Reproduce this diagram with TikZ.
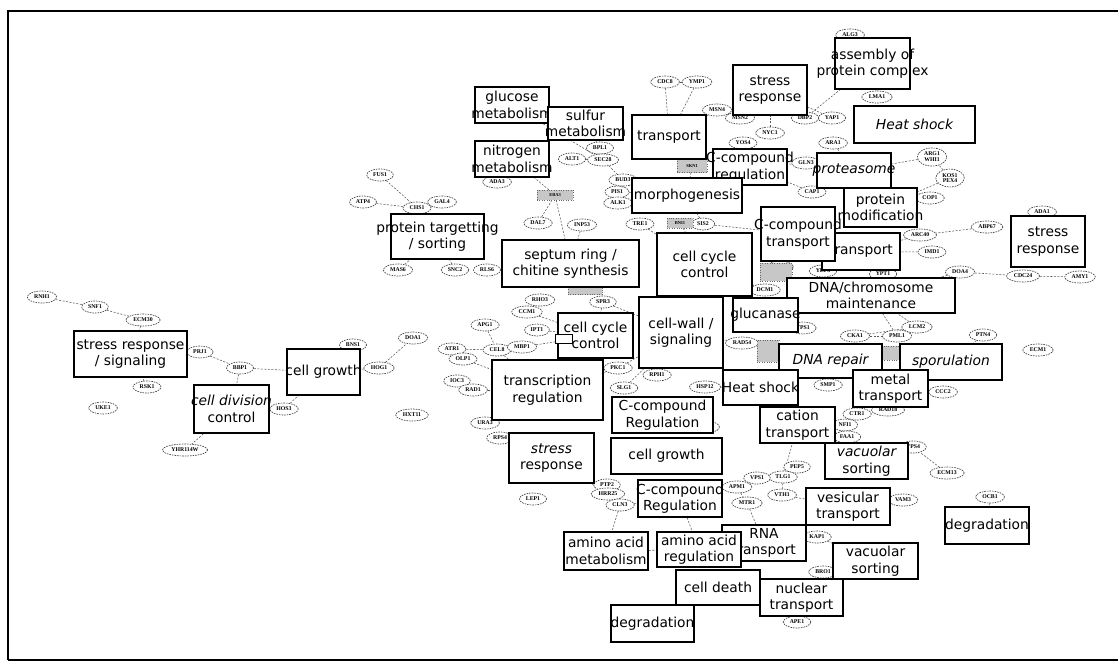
\documentclass[tikz,border=0pt]{standalone}
\usepackage{fontspec}
\newfontfamily\boxf{DejaVu Sans}
\newfontfamily\genef{Liberation Serif}
\usetikzlibrary{shapes.geometric,backgrounds}
\tikzset{
 catbox/.style={draw=black, line width=1.9pt, fill=white, inner sep=0pt, rectangle},
 thinbox/.style={line width=1.1pt},
 cattext/.style={font=\boxf\fontsize{13.8}{16.5}\selectfont, align=center, inner sep=0pt},
 gene/.style={ellipse, draw=black!75, dash pattern=on 1.6pt off 1pt, line width=.65pt, fill=white, inner xsep=2.5pt, inner ysep=1.5pt, minimum height=12pt, font=\genef\bfseries\fontsize{5.8}{5.8}\selectfont, align=center},
 patch/.style={rectangle, draw=black!60, dotted, fill=black!22, inner sep=0.5pt, font=\genef\bfseries\fontsize{4.5}{5}\selectfont},
 edge/.style={draw=black!65, dash pattern=on 2pt off 1.5pt, line width=.55pt},
 frame/.style={draw=black, line width=1.3pt},
 smallsq/.style={draw=black, line width=.8pt, fill=white, inner sep=0pt},
}
\newcommand\cbox[7][]{%
 \node[catbox,#1,minimum width={#5-#3},minimum height={#6-#4}] (#2) at ({(#3+#5)/2},{(#4+#6)/2}) {};
 \node[cattext] (#2t) at (#2.center) {#7};}
\newcommand\gn[4]{\node[gene] (#1) at (#2,#3) {#4};}
\begin{document}
\begin{tikzpicture}[x=1pt,y=-1pt]
\useasboundingbox (0,0) rectangle (1118,664);
% genes
\gn{g1}{42}{297}{RNH1}
\gn{g2}{95}{307}{SNF1}
\gn{g3}{143}{320}{ECM30}
\gn{g4}{200}{352}{PRJ1}
\gn{g5}{240}{368}{BBP1}
\gn{g6}{284}{409}{HOS3}
\gn{g7}{147}{387}{RSK1}
\gn{g8}{103}{408}{UKE1}
\gn{g9}{185}{450}{YHR114W}
\gn{g10}{353}{345}{BNS1}
\gn{g11}{379}{368}{HOG1}
\gn{g12}{413}{338}{DOA1}
\gn{g13}{412}{415}{HXT11}
\gn{g14}{485}{325}{APG1}
\gn{g15}{452}{349}{ATR1}
\gn{g16}{463}{359}{OLP1}
\gn{g17}{497}{350}{CEL8}
\gn{g18}{457}{381}{IOC3}
\gn{g19}{473}{390}{RAD1}
\gn{g20}{485}{423}{URA3}
\gn{g21}{500}{438}{RPS4}
\gn{g22}{533}{499}{LEP1}
\gn{g23}{540}{300}{RHO3}
\gn{g24}{527}{312}{CCM1}
\gn{g25}{537}{330}{IPT1}
\gn{g26}{603}{302}{SPR3}
\gn{g27}{522}{347}{MBP1}
\gn{g28}{455}{270}{SNC2}
\gn{g29}{487}{270}{RLS6}
\gn{g30}{398}{270}{MAS6}
\gn{g31}{380}{175}{FUS1}
\gn{g32}{363}{202}{ATP4}
\gn{g33}{417}{208}{CHS1}
\gn{g34}{442}{202}{GAL4}
\gn{g35}{497}{182}{ADA3}
\gn{g36}{538}{223}{DAL7}
\gn{g37}{582}{225}{INP53}
\gn{g38}{600}{148}{BPL1}
\gn{g39}{572}{159}{ALT1}
\gn{g40}{603}{160}{SEC28}
\gn{g41}{617}{192}{PIS1}
\gn{g42}{618}{203}{ALK1}
\gn{g43}{623}{180}{BUD3}
\gn{g44}{640}{224}{TRE1}
\gn{g45}{703}{224}{SIS2}
\gn{g46}{665}{82}{CDC8}
\gn{g47}{697}{82}{YMP1}
\gn{g48}{717}{110}{MSN4}
\gn{g49}{740}{118}{MSN2}
\gn{g50}{743}{143}{YOS4}
\gn{g51}{770}{133}{NYC1}
\gn{g52}{806}{163}{GLN3}
\gn{g53}{805}{118}{DBP2}
\gn{g54}{832}{118}{YAP1}
\gn{g55}{850}{35}{ALG3}
\gn{g56}{877}{97}{LMA1}
\gn{g57}{833}{143}{ARA1}
\gn{g58}{812}{192}{CAP1}
\gn{g59}{932}{157}{ARG1\\WHI1}
\gn{g60}{950}{178}{KOS1\\PEX4}
\gn{g61}{930}{198}{COP1}
\gn{g62}{1042}{212}{ADA1}
\gn{g63}{987}{227}{ABP67}
\gn{g64}{920}{235}{ARC40}
\gn{g65}{932}{252}{IMD1}
\gn{g66}{960}{272}{DOA4}
\gn{g67}{1023}{276}{CDC24}
\gn{g68}{1080}{277}{AMY1}
\gn{g69}{917}{327}{LCM2}
\gn{g70}{983}{335}{PTN4}
\gn{g71}{1038}{350}{ECM1}
\gn{g73}{780}{267}{SAP4}
\gn{g74}{823}{271}{YEF3}
\gn{g75}{883}{274}{YPT1}
\gn{g76}{765}{290}{DCM1}
\gn{g77}{803}{328}{TPS1}
\gn{g78}{855}{336}{CKA1}
\gn{g79}{897}{336}{PML1}
\gn{g80}{742}{343}{RAD54}
\gn{g81}{828}{385}{SMP1}
\gn{g83}{857}{414}{CTR1}
\gn{g84}{888}{410}{RAD18}
\gn{g85}{845}{425}{NFI1}
\gn{g86}{847}{437}{FAA1}
\gn{g87}{943}{392}{CCC2}
\gn{g88}{705}{387}{HSP12}
\gn{g89}{657}{375}{RPH1}
\gn{g90}{705}{427}{ALO1}
\gn{g91}{607}{485}{PTP2}
\gn{g92}{608}{494}{HRR25}
\gn{g93}{620}{505}{CLN3}
\gn{g94}{797}{467}{PEP5}
\gn{g95}{783}{477}{TLG1}
\gn{g96}{757}{478}{VPS1}
\gn{g97}{737}{487}{APM1}
\gn{g98}{747}{503}{MTR1}
\gn{g99}{782}{495}{VTH1}
\gn{g100}{903}{500}{VAM3}
\gn{g101}{817}{537}{KAP1}
\gn{g102}{823}{572}{BRO1}
\gn{g103}{797}{622}{APE1}
\gn{g104}{947}{473}{ECM13}
\gn{g105}{990}{497}{OCB1}
\gn{g106}{913}{447}{VPS4}
\gn{g107}{618}{368}{PKC1}
\gn{g108}{624}{388}{SLG1}
% shaded patches
\node[patch, minimum width=36pt, minimum height=10pt] (p1) at (555,195) {EBA3};
\node[patch, minimum width=30pt, minimum height=13pt] (p2) at (692,166) {SKN1};
\node[patch, minimum width=26pt, minimum height=10pt] (p3) at (680,223) {BNI1};
\node[patch, minimum width=34pt, minimum height=7pt] (p4) at (585,291) {};
\node[patch, minimum width=32pt, minimum height=18pt] (p5) at (776,272) {};
\node[patch, minimum width=22pt, minimum height=22pt] (p6) at (768,351) {};
\node[patch, minimum width=18pt, minimum height=14pt] (p7) at (891,353) {};
% category boxes
\cbox{stressT}{733}{65}{807}{115}{stress\\response}
\cbox{assembly}{835}{38}{910}{89}{assembly of\\protein complex}
\cbox[thinbox]{heatT}{854}{106}{975}{143}{\itshape Heat shock}
\cbox{cregT}{713}{149}{787}{185}{C-compound\\regulation}
\cbox{transT}{632}{115}{706}{159}{transport}
\cbox{glucose}{475}{87}{549}{123}{glucose\\metabolism}
\cbox{sulfur}{548}{107}{623}{140}{sulfur\\metabolism}
\cbox{nitrogen}{475}{141}{549}{177}{nitrogen\\metabolism}
\cbox{morph}{632}{178}{742}{213}{morphogenesis}
\cbox{proteasome}{817}{153}{891}{188}{\itshape proteasome}
\cbox{protmod}{844}{188}{917}{227}{protein\\modification}
\cbox{transR}{822}{233}{900}{270}{transport}
\cbox{cctrans}{761}{207}{835}{261}{C-compound\\transport}
\cbox{stressR}{1011}{216}{1085}{267}{stress\\response}
\cbox{prottarg}{391}{214}{484}{259}{protein targetting\\/ sorting}
\cbox{septum}{502}{240}{639}{287}{septum ring /\\chitine synthesis}
\cbox{ccC}{657}{233}{752}{296}{cell cycle\\control}
\cbox{dnachrom}{787}{278}{955}{313}{DNA/chromosome\\maintenance}
\cbox{cellwall}{639}{297}{723}{368}{cell-wall /\\signaling}
\cbox{glucanase}{733}{298}{798}{332}{glucanase}
\cbox{ccS}{558}{313}{633}{358}{cell cycle\\control}
\node[smallsq, minimum width=17pt, minimum height=9pt] (sq) at (564,339) {};
\cbox{transcr}{492}{360}{603}{420}{transcription\\regulation}
\cbox{dnarep}{779}{344}{882}{378}{\itshape DNA repair}
\cbox{sporul}{900}{344}{1002}{380}{\itshape sporulation}
\cbox{metal}{853}{370}{928}{407}{metal\\transport}
\cbox{heatM}{723}{370}{798}{405}{Heat shock}
\cbox{cation}{760}{407}{835}{443}{cation\\transport}
\cbox{cregM}{612}{397}{713}{433}{C-compound\\Regulation}
\cbox{vacM}{825}{443}{908}{479}{{\itshape vacuolar}\\sorting}
\cbox{stressL}{509}{433}{594}{483}{{\itshape stress}\\response}
\cbox{cellgrowthC}{611}{438}{722}{474}{cell growth}
\cbox{cregL}{638}{480}{722}{517}{C-compound\\Regulation}
\cbox{rnatrans}{722}{525}{806}{561}{RNA\\transport}
\cbox{vesic}{806}{488}{890}{525}{vesicular\\transport}
\cbox{aamet}{564}{532}{648}{570}{amino acid\\metabolism}
\cbox{aareg}{657}{532}{741}{567}{amino acid\\regulation}
\cbox{celldeath}{676}{570}{760}{605}{cell death}
\cbox{degL}{611}{605}{694}{642}{degradation}
\cbox{vacL}{833}{543}{918}{579}{vacuolar\\sorting}
\cbox{nuclear}{760}{579}{843}{616}{nuclear\\transport}
\cbox[thinbox]{degR}{945}{507}{1029}{544}{degradation}
\cbox{stresssig}{74}{331}{187}{377}{stress response\\/ signaling}
\cbox{celldiv}{194}{385}{269}{433}{{\itshape cell division}\\control}
\cbox{cellgrowthL}{287}{349}{360}{395}{cell growth}
% frame
\draw[frame] (8,660) -- (8,11) -- (1118,11);
\draw[frame] (8,660) -- (1118,660);
\begin{scope}[on background layer]
\fill[white] (0,0) rectangle (1118,664);
\foreach \a/\b in {g1/g2,g2/g3,g3/stresssig,stresssig/g4,g4/g5,g5/cellgrowthL,g5/celldiv,celldiv/g9,g6/cellgrowthL,g6/celldiv,g7/stresssig,g10/cellgrowthL,g11/cellgrowthL,g11/g12,g15/g17,g16/transcr,g17/transcr,g18/g19,g19/transcr,g20/transcr,g21/stressL,g14/g17,g23/g24,g24/ccS,g25/ccS,g26/ccS,g27/ccS,g26/cellwall,
g31/g33,g32/g33,g34/g33,g33/prottarg,g30/prottarg,g28/prottarg,g29/septum,g35/nitrogen,g38/sulfur,g39/g40,g40/g43,g38/g40,g36/p1,p1/nitrogen,p1/septum,g37/septum,g41/morph,g42/morph,g44/ccC,glucose/g40,g43/morph,
g46/g47,g47/transT,g46/transT,g48/transT,g49/stressT,g50/cregT,g51/stressT,g53/assembly,g54/stressT,g53/stressT,g55/assembly,g56/assembly,g57/proteasome,g58/proteasome,g58/cregT,g52/cregT,p2/morph,p2/transT,g45/morph,p3/ccC,g45/cctrans,
g59/proteasome,g60/protmod,g61/protmod,g60/g59,g62/stressR,g63/g64,g64/transR,g65/transR,g66/g67,g67/g68,g66/dnachrom,g69/dnachrom,g70/sporul,g73/cctrans,g74/transR,g75/transR,g76/ccC,g77/glucanase,g78/g79,g79/dnachrom,g78/g69,g80/cellwall,g80/dnarep,g81/dnarep,g83/metal,g84/metal,g85/cation,g86/vacM,g87/metal,g88/heatM,g89/cellwall,g90/cregM,g91/g92,g92/stressL,g93/cregL,g93/aamet,cregL/aareg,aamet/aareg,
g94/g95,g95/g99,g96/g97,g97/g98,g98/rnatrans,g99/vesic,g95/cation,g100/vesic,g101/vacL,g101/rnatrans,g102/nuclear,g103/nuclear,g106/vacM,g105/degR,p5/cctrans,p6/dnarep,p7/sporul,g107/transcr,g108/cellwall,g107/cellwall,p4/septum,g104/g106}
 {\draw[edge] (\a) -- (\b);}
\end{scope}
\end{tikzpicture}
\end{document}
